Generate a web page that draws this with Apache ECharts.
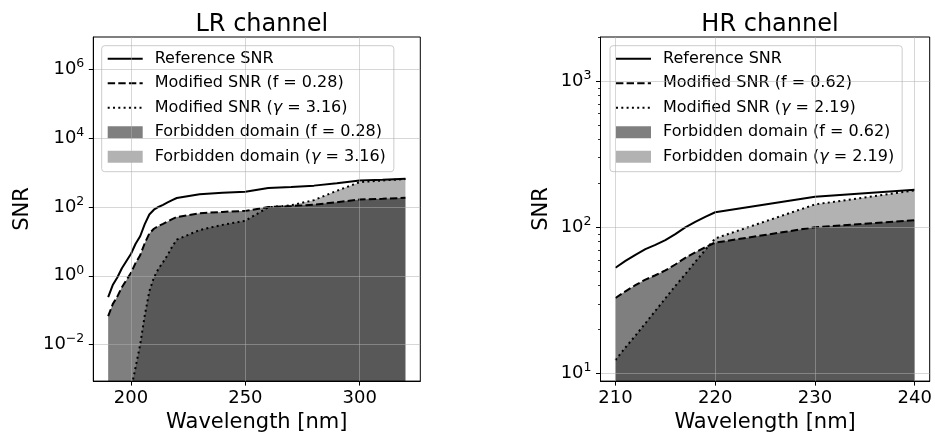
<!DOCTYPE html>
<html>
<head>
<meta charset="utf-8">
<script src="https://cdn.jsdelivr.net/npm/echarts@6/dist/echarts.min.js"></script>
<style>
  html, body { margin: 0; padding: 0; background: #fff; }
  #chart { width: 935px; height: 438px; }
</style>
</head>
<body>
<div id="chart"></div>
<script>
// ---- LR channel ----
const lrWavelength = [190, 192, 194, 196, 198, 200, 202, 204, 206, 208, 210, 212, 214, 216, 218, 220,
  230, 240, 250, 260, 270, 280, 290, 300, 310, 320];
const lrReference = [0.24, 0.537, 0.891, 1.66, 2.69, 4.37, 8.51, 14.1, 31.6, 60.3, 83.2, 100, 115, 135, 158, 182,
  234, 257, 275, 355, 380, 417, 490, 589, 617, 661];
const lrModifiedF = [0.067, 0.150, 0.249, 0.465, 0.753, 1.22, 2.38, 3.95, 8.85, 16.9, 23.3, 28.0, 32.2, 37.8, 44.2, 51.0,
  65.5, 72.0, 77.0, 99.4, 106, 117, 137, 165, 173, 185];
const lrModifiedGamma = [1.6e-7, 7.9e-7, 4e-6, 2e-5, 1e-4, 5e-4, 2.2e-3, 1e-2, 7e-2, 0.355, 0.89, 1.6, 2.5, 4.0, 7.1, 11.2,
  21.4, 30.2, 39.8, 97.7, 112, 158, 295, 525, 589, 646];
const lrF = '0.28';
const lrGamma = '3.16';
const lrXTicks = [200, 250, 300];
const lrYTicks = [1e-2, 1, 1e2, 1e4, 1e6];

// ---- HR channel ----
const hrWavelength = [210, 211, 212, 213, 214, 215, 216, 217, 218, 219, 220, 230, 240];
const hrReference = [53, 59, 65, 71, 76, 82, 90, 100, 109, 118, 127, 162, 181];
const hrModifiedF = [32.9, 36.6, 40.3, 44.0, 47.1, 50.8, 55.8, 62.0, 67.6, 73.2, 78.7, 100.4, 112.2];
const hrModifiedGamma = [12.4, 15.1, 18.2, 22.1, 26.9, 32.7, 39.8, 47.9, 58.2, 70.0, 84.1, 143.6, 179];
const hrF = '0.62';
const hrGamma = '2.19';
const hrXTicks = [210, 220, 230, 240];
const hrYTicks = [10, 100, 1000];
const hrYMinorTicks = [20, 30, 40, 50, 60, 70, 80, 90, 200, 300, 400, 500, 600, 700, 800, 900, 2000];

const FONT = 'DejaVu Sans';
const GRID_COLOR = 'rgba(176,176,176,0.5)';
const DASHED = [7.4, 3.2];
const DOTTED = [2, 3.3];

const pairs = (xs, ys) => xs.map((x, i) => [x, ys[i]]);

function powerLabel(v) {
  const e = Math.round(Math.log10(v));
  const s = e < 0 ? '\u2212' + (-e) : String(e);
  return '{b|10}{s|' + s + '}';
}

const powerRich = {
  b: { fontFamily: FONT, fontSize: 18, lineHeight: 18, color: '#000', verticalAlign: 'bottom' },
  s: { fontFamily: FONT, fontSize: 12.5, lineHeight: 12.5, color: '#000', padding: [0, 0, 8, 0], verticalAlign: 'bottom' }
};

function names(f, g) {
  return {
    ref: 'Reference SNR',
    modF: 'Modified SNR (f = ' + f + ')',
    modG: 'Modified SNR (γ = ' + g + ')',
    domF: 'Forbidden domain (f = ' + f + ')',
    domG: 'Forbidden domain (γ = ' + g + ')'
  };
}

function panelSeries(idx, yIdx, wl, ref, modF, modG, n, xTicks, yTicks) {
  return [
    {
      name: n.domF, type: 'line', xAxisIndex: idx, yAxisIndex: yIdx,
      data: pairs(wl, modF), symbol: 'none', silent: true, z: 2,
      lineStyle: { width: 0 }, itemStyle: { color: 'rgba(0,0,0,0.5)' },
      areaStyle: { color: 'rgba(0,0,0,0.5)', origin: 'start', opacity: 1 }
    },
    {
      name: n.domG, type: 'line', xAxisIndex: idx, yAxisIndex: yIdx,
      data: pairs(wl, modG), symbol: 'none', silent: true, z: 2,
      lineStyle: { width: 0 }, itemStyle: { color: 'rgba(0,0,0,0.3)' },
      areaStyle: { color: 'rgba(0,0,0,0.3)', origin: 'start', opacity: 1 }
    },
    {
      // grid lines, drawn above the shaded domains and below the curves
      type: 'line', xAxisIndex: idx, yAxisIndex: yIdx, data: [], z: 3, silent: true,
      markLine: {
        silent: true, symbol: ['none', 'none'], animation: false,
        label: { show: false },
        lineStyle: { color: GRID_COLOR, width: 1, type: 'solid' },
        emphasis: { disabled: true },
        data: xTicks.map(v => ({ xAxis: v })).concat(yTicks.map(v => ({ yAxis: v })))
      }
    },
    {
      name: n.ref, type: 'line', xAxisIndex: idx, yAxisIndex: yIdx,
      data: pairs(wl, ref), symbol: 'none', z: 4,
      lineStyle: { color: '#000', width: 2 }, itemStyle: { color: '#000' }
    },
    {
      name: n.modF, type: 'line', xAxisIndex: idx, yAxisIndex: yIdx,
      data: pairs(wl, modF), symbol: 'none', z: 4,
      lineStyle: { color: '#000', width: 2, type: DASHED }, itemStyle: { color: '#000' }
    },
    {
      name: n.modG, type: 'line', xAxisIndex: idx, yAxisIndex: yIdx,
      data: pairs(wl, modG), symbol: 'none', z: 4,
      lineStyle: { color: '#000', width: 2, type: DOTTED }, itemStyle: { color: '#000' }
    }
  ];
}

function panelLegend(n, left) {
  return {
    orient: 'vertical', left: left, top: 45.7,
    padding: [5, 8, 7, 5],
    itemWidth: 35, itemHeight: 12, itemGap: 8.5,
    backgroundColor: 'rgba(255,255,255,0.8)', borderColor: '#cccccc', borderWidth: 1, borderRadius: 3,
    selectedMode: false,
    textStyle: {
      fontFamily: FONT, fontSize: 16, color: '#000', lineHeight: 16, padding: [0, 0, 0, 7],
      rich: { g: { fontFamily: FONT, fontSize: 16, fontStyle: 'italic', color: '#000' } }
    },
    formatter: name => name.replace('γ', '{g|γ}'),
    data: [
      { name: n.ref, itemStyle: { opacity: 0 } },
      { name: n.modF, itemStyle: { opacity: 0 } },
      { name: n.modG, itemStyle: { opacity: 0 } },
      { name: n.domF, icon: 'rect', itemStyle: { color: 'rgba(0,0,0,0.5)', borderWidth: 0 } },
      { name: n.domG, icon: 'rect', itemStyle: { color: 'rgba(0,0,0,0.3)', borderWidth: 0 } }
    ]
  };
}

function xAxisFor(gridIndex, min, max, ticks) {
  return {
    type: 'value', gridIndex, min, max, z: 10, position: 'bottom',
    name: 'Wavelength [nm]', nameLocation: 'middle', nameGap: 29,
    nameTextStyle: { fontFamily: FONT, fontSize: 21, color: '#000' },
    axisLine: { show: true, lineStyle: { color: '#000', width: 1 } },
    axisTick: { show: true, length: 4.5, lineStyle: { color: '#000', width: 1 }, customValues: ticks },
    axisLabel: { show: true, margin: 8, fontFamily: FONT, fontSize: 18, color: '#000', customValues: ticks },
    splitLine: { show: false }
  };
}

function yAxisFor(gridIndex, min, max, ticks, nameGap) {
  return {
    type: 'log', logBase: 10, gridIndex, min, max, z: 10, position: 'left',
    name: 'SNR', nameLocation: 'middle', nameGap,
    nameTextStyle: { fontFamily: FONT, fontSize: 21, color: '#000' },
    axisLine: { show: true, lineStyle: { color: '#000', width: 1 } },
    axisTick: { show: true, length: 4.5, lineStyle: { color: '#000', width: 1 }, customValues: ticks },
    axisLabel: { show: true, margin: 9, formatter: powerLabel, rich: powerRich, customValues: ticks },
    splitLine: { show: false },
    minorTick: { show: false }
  };
}

const lrNames = names(lrF, lrGamma);
const hrNames = names(hrF, hrGamma);

const option = {
  animation: false,
  backgroundColor: '#fff',
  textStyle: { fontFamily: FONT },
  title: [
    { text: 'LR channel', left: 256.8, top: 8, textAlign: 'center',
      textStyle: { fontFamily: FONT, fontSize: 24, fontWeight: 'normal', color: '#000' } },
    { text: 'HR channel', left: 765, top: 8, textAlign: 'center',
      textStyle: { fontFamily: FONT, fontSize: 24, fontWeight: 'normal', color: '#000' } }
  ],
  grid: [
    { left: 93.3, top: 37, width: 327, height: 345, show: true, borderColor: '#000', borderWidth: 1, backgroundColor: 'transparent' },
    { left: 600.5, top: 37, width: 329.2, height: 345, show: true, borderColor: '#000', borderWidth: 1, backgroundColor: 'transparent' }
  ],
  legend: [panelLegend(lrNames, 101.7), panelLegend(hrNames, 610)],
  xAxis: [
    xAxisFor(0, 183.5, 326.5, lrXTicks),
    xAxisFor(1, 208.5, 241.5, hrXTicks)
  ],
  yAxis: [
    yAxisFor(0, 8.7e-4, 8.7e6, lrYTicks, 60),
    yAxisFor(1, 8.9, 2004, hrYTicks, 48),
    {
      // minor decade ticks for the HR panel
      type: 'log', logBase: 10, gridIndex: 1, min: 8.9, max: 2004, z: 10,
      position: 'left', offset: 0,
      axisLine: { show: false },
      axisTick: { show: true, length: 2.5, lineStyle: { color: '#000', width: 0.8 }, customValues: hrYMinorTicks },
      axisLabel: { show: false },
      splitLine: { show: false }
    }
  ],
  series: [
    ...panelSeries(0, 0, lrWavelength, lrReference, lrModifiedF, lrModifiedGamma, lrNames, lrXTicks, lrYTicks),
    ...panelSeries(1, 1, hrWavelength, hrReference, hrModifiedF, hrModifiedGamma, hrNames, hrXTicks, hrYTicks)
  ]
};

const chart = echarts.init(document.getElementById('chart'), null, { renderer: 'canvas' });
chart.setOption(option);
</script>
</body>
</html>
